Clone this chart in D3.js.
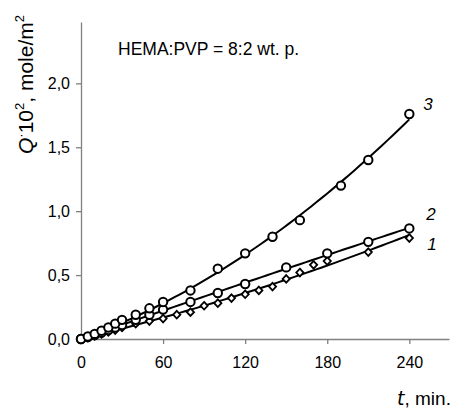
<!DOCTYPE html>
<html lang="en">
<head>
<meta charset="UTF-8">
<title></title>
<style>
    body { margin: 0; background: #fff; }
    svg { font-family: "Liberation Sans", Arial, sans-serif; }
</style>
</head>
<body>
<script src="https://d3js.org/d3.v7.min.js"></script>
<script>
    // measured data, t in min, Q*10^2 in mole/m^2
    var t3 = [0, 5, 10, 15, 20, 25, 30, 40, 50, 60, 80, 100, 120, 140, 160, 190, 210, 240],
        q3 = [0, 0.02, 0.04, 0.065, 0.09, 0.12, 0.15, 0.19, 0.24, 0.29, 0.38, 0.55, 0.67, 0.80, 0.93, 1.20, 1.40, 1.76];
    var t2 = [0, 5, 10, 15, 20, 25, 30, 40, 50, 60, 80, 100, 120, 150, 180, 210, 240],
        q2 = [0, 0.015, 0.03, 0.05, 0.07, 0.09, 0.11, 0.15, 0.19, 0.23, 0.29, 0.36, 0.43, 0.56, 0.67, 0.76, 0.865];
    var t1 = [0, 5, 10, 15, 20, 25, 30, 40, 50, 60, 70, 80, 90, 100, 110, 120, 130, 140, 150, 160, 170, 180, 210, 240],
        q1 = [0, 0.01, 0.025, 0.04, 0.055, 0.07, 0.09, 0.12, 0.14, 0.16, 0.19, 0.21, 0.26, 0.28, 0.32, 0.35, 0.38, 0.41, 0.47, 0.52, 0.58, 0.61, 0.68, 0.79];
    var xTicks = [0, 60, 120, 180, 240],
        yTicks = [0, 0.5, 1.0, 1.5, 2.0];
    var seriesNames = ['1', '2', '3'];

    var width = 461, height = 411;
    var x0 = 81, x1 = 449, yBase = 339, yTop = 22;

    var svg = d3.select('body').append('svg')
                .attr('width', width)
                .attr('height', height);

    var x = d3.scaleLinear().domain([0, 269]).range([x0, x1]);
    var y = d3.scaleLinear().domain([0, 2.48]).range([yBase, yTop]);
    var fmt = function(d) { return d3.format('.1f')(d).replace('.', ','); };

    // x axis
    var gx = svg.append('g')
       .attr('transform', 'translate(0,' + yBase + ')')
       .call(d3.axisBottom(x).tickValues(xTicks).tickSize(5).tickPadding(13).tickSizeOuter(0));
    // y axis
    var gy = svg.append('g')
       .attr('transform', 'translate(' + x0 + ',0)')
       .call(d3.axisLeft(y).tickValues(yTicks).tickFormat(fmt).tickSize(5).tickPadding(6).tickSizeOuter(0));
    [gx, gy].forEach(function(g) {
        g.selectAll('path, line').attr('stroke', '#808080').attr('stroke-width', 1.3);
        g.selectAll('text').attr('font-size', 16).attr('fill', '#000')
         .attr('font-family', '"Liberation Sans", Arial, sans-serif');
    });

    // least squares fit Q = a t + b t^2 (through origin)
    function fit(ts, qs) {
        var s2 = 0, s3 = 0, s4 = 0, sy1 = 0, sy2 = 0;
        ts.forEach(function(t, i) {
            s2 += t*t; s3 += t*t*t; s4 += t*t*t*t;
            sy1 += qs[i]*t; sy2 += qs[i]*t*t;
        });
        var det = s2*s4 - s3*s3;
        var a = (sy1*s4 - sy2*s3) / det,
            b = (s2*sy2 - s3*sy1) / det;
        return function(t) { return a*t + b*t*t; };
    }

    var series = [
        {name: seriesNames[0], t: t1, q: q1, mark: 'diamond'},
        {name: seriesNames[1], t: t2, q: q2, mark: 'circle'},
        {name: seriesNames[2], t: t3, q: q3, mark: 'circle'}
    ];

    var line = d3.line().x(function(d) { return x(d[0]); }).y(function(d) { return y(d[1]); });

    series.forEach(function(s) {
        var f = fit(s.t, s.q);
        var pts = d3.range(0, 241, 4).map(function(t) { return [t, f(t)]; });
        svg.append('path')
           .attr('d', line(pts))
           .attr('fill', 'none')
           .attr('stroke', '#000')
           .attr('stroke-width', 2);
    });

    series.forEach(function(s) {
        var g = svg.append('g');
        s.t.forEach(function(t, i) {
            if (s.mark === 'circle') {
                g.append('circle')
                 .attr('cx', x(t)).attr('cy', y(s.q[i])).attr('r', 4.2)
                 .attr('fill', '#fff').attr('stroke', '#000').attr('stroke-width', 2);
            } else {
                g.append('path')
                 .attr('d', 'M0,-3.8L3.6,0L0,3.8L-3.6,0Z')
                 .attr('transform', 'translate(' + x(t) + ',' + y(s.q[i]) + ')')
                 .attr('fill', '#fff').attr('stroke', '#000').attr('stroke-width', 1.8);
            }
        });
    });

    // curve numbers
    var labelOffsets = {'1': [18, 12], '2': [17, -8], '3': [14, -4]};
    series.forEach(function(s) {
        var n = s.t.length - 1, off = labelOffsets[s.name];
        svg.append('text')
           .attr('x', x(s.t[n]) + off[0])
           .attr('y', y(s.q[n]) + off[1])
           .attr('font-size', 17)
           .attr('font-style', 'italic')
           .text(s.name);
    });

    svg.append('text')
       .attr('x', 118).attr('y', 55)
       .attr('font-size', 17.5)
       .text('HEMA:PVP = 8:2 wt. p.');

    // y title
    var yt = svg.append('text')
       .attr('transform', 'translate(33,154) rotate(-90)')
       .attr('font-size', 21);
    yt.append('tspan').attr('font-style', 'italic').text('Q');
    yt.append('tspan').attr('dy', -8).attr('font-size', 13).text('·');
    yt.append('tspan').attr('dy', 8).text('10');
    yt.append('tspan').attr('dy', -9).attr('font-size', 13).text('2');
    yt.append('tspan').attr('dy', 9).text(', mole/m');
    yt.append('tspan').attr('dy', -9).attr('font-size', 13).text('2');

    // x title
    var xt = svg.append('text')
       .attr('x', 397).attr('y', 405)
       .attr('font-size', 19);
    xt.append('tspan').attr('font-style', 'italic').attr('font-family', '"DejaVu Sans", sans-serif').text('t');
    xt.append('tspan').text(', min.');
</script>
</body>
</html>
